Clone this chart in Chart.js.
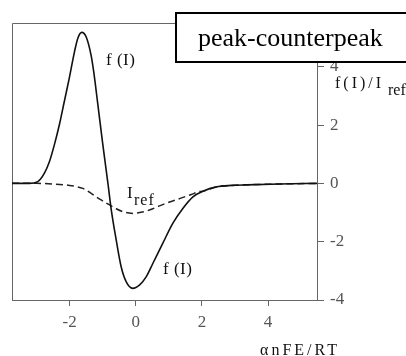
<!DOCTYPE html>
<html lang="en">
<head>
<meta charset="UTF-8">
<title>peak-counterpeak</title>
<style>
  html, body { margin: 0; padding: 0; background: #fff; }
  #wrap { width: 406px; height: 356px; position: relative; }
</style>
</head>
<body>
<div id="wrap"><canvas id="chart"></canvas></div>
<script src="https://cdn.jsdelivr.net/npm/chart.js"></script>
<script>
// f(I) curve: peak then counterpeak
const fX = [-3.74, -3.22, -2.96, -2.76, -2.61, -2.46, -2.31, -2.16, -2.01, -1.85, -1.75, -1.63, -1.50, -1.35, -1.27,
            -1.15, -1.00, -0.84, -0.74, -0.59, -0.44, -0.29, -0.09, 0.12, 0.32, 0.52, 0.82, 1.12, 1.43, 1.73, 2.03,
            2.44, 2.90, 3.35, 4.35, 5.48];
const fY = [0, 0, 0.06, 0.35, 0.74, 1.32, 2.00, 2.80, 3.60, 4.52, 4.98, 5.18, 5.03, 4.40, 3.83,
            2.75, 1.38, 0, -0.90, -1.94, -2.86, -3.37, -3.60, -3.48, -3.20, -2.74, -2.05, -1.37, -0.85, -0.46, -0.27,
            -0.12, -0.07, -0.05, -0.02, 0];

// reference current I_ref (dashed)
const refX = [-3.74, -3.00, -2.50, -2.00, -1.80, -1.60, -1.40, -1.20, -1.00, -0.79, -0.59, -0.39, -0.20, -0.05, 0.12,
              0.32, 0.52, 0.72, 0.92, 1.18, 1.43, 1.68, 1.93, 2.03, 2.44, 2.90, 3.35, 4.35, 5.48];
const refY = [0, 0, -0.02, -0.07, -0.11, -0.17, -0.30, -0.46, -0.60, -0.74, -0.87, -0.97, -1.02, -1.03, -1.00,
              -0.95, -0.87, -0.77, -0.68, -0.58, -0.48, -0.38, -0.28, -0.27, -0.12, -0.07, -0.05, -0.02, 0];

const xTicks = [-2, 0, 2, 4];
const yTicks = [-4, -2, 0, 2, 4];

const toPoints = (xs, ys) => xs.map((x, i) => ({ x: x, y: ys[i] }));

const SERIF = "Liberation Serif, DejaVu Serif, serif";

// draws text with extra spacing between letters
function spacedText(ctx, text, x, y, spacing) {
    ctx.letterSpacing = spacing + 'px';
    ctx.fillText(text, x, y);
    ctx.letterSpacing = '0px';
}

// frame, curve labels, axis titles and the boxed caption
const decorations = {
    id: 'decorations',
    beforeDatasetsDraw(chart) {
        const ctx = chart.ctx;
        const a = chart.chartArea;
        ctx.save();
        ctx.strokeStyle = '#666';
        ctx.lineWidth = 1;
        ctx.beginPath();
        ctx.moveTo(a.left + 0.5, a.bottom);
        ctx.lineTo(a.left + 0.5, a.top + 0.5);
        ctx.lineTo(a.right, a.top + 0.5);
        ctx.stroke();
        ctx.restore();
    },
    afterDraw(chart) {
        const ctx = chart.ctx;
        ctx.save();
        ctx.fillStyle = '#111';
        ctx.textBaseline = 'alphabetic';
        ctx.textAlign = 'left';

        ctx.font = '17px ' + SERIF;
        spacedText(ctx, 'f (I)', 106, 65, 0.5);
        spacedText(ctx, 'f (I)', 163, 274, 0.5);
        ctx.fillText('I', 127, 198);
        ctx.font = '16px ' + SERIF;
        spacedText(ctx, 'ref', 134, 205, 1);

        // right axis title
        ctx.font = '16px ' + SERIF;
        spacedText(ctx, 'f(I)/I', 335, 88, 3);
        spacedText(ctx, 'ref', 388, 95, 0);

        // bottom axis title
        ctx.font = '16px ' + SERIF;
        ctx.textAlign = 'center';
        spacedText(ctx, '\u03b1nFE/RT', 300, 355, 3);

        // caption box
        ctx.fillStyle = '#fff';
        ctx.fillRect(176, 13, 240, 49);
        ctx.strokeStyle = '#000';
        ctx.lineWidth = 2;
        ctx.strokeRect(176, 13, 240, 49);
        ctx.fillStyle = '#000';
        ctx.textAlign = 'left';
        ctx.font = '26px ' + SERIF;
        ctx.fillText('peak-counterpeak', 198, 46);
        ctx.restore();
    }
};

new Chart(document.getElementById('chart'), {
    type: 'line',
    data: {
        datasets: [
            {
                label: 'f(I)',
                data: toPoints(fX, fY),
                borderColor: '#111',
                borderWidth: 1.6,
                pointRadius: 0,
                cubicInterpolationMode: 'monotone',
                fill: false
            },
            {
                label: 'Iref',
                data: toPoints(refX, refY),
                borderColor: '#222',
                borderWidth: 1.5,
                borderDash: [7, 4],
                pointRadius: 0,
                cubicInterpolationMode: 'monotone',
                fill: false
            }
        ]
    },
    options: {
        responsive: true,
        maintainAspectRatio: false,
        animation: false,
        devicePixelRatio: 1,
        layout: { padding: { left: 12, top: 23, right: 0, bottom: 0 } },
        plugins: {
            legend: { display: false },
            tooltip: { enabled: false }
        },
        scales: {
            x: {
                type: 'linear',
                position: 'bottom',
                min: -3.74,
                max: 5.48,
                afterBuildTicks: (axis) => { axis.ticks = xTicks.map(v => ({ value: v })); },
                afterFit: (scale) => { scale.height = 56; },
                border: { display: true, color: '#666', width: 1 },
                grid: { drawOnChartArea: false, drawTicks: true, tickLength: 6, color: '#666' },
                ticks: {
                    color: '#555',
                    padding: 6,
                    font: { family: SERIF, size: 17 },
                    maxRotation: 0
                }
            },
            y: {
                type: 'linear',
                position: 'right',
                min: -4,
                max: 5.5,
                afterBuildTicks: (axis) => { axis.ticks = yTicks.map(v => ({ value: v })); },
                afterFit: (scale) => { scale.width = 89; },
                border: { display: true, color: '#666', width: 1 },
                grid: { drawOnChartArea: false, drawTicks: true, tickLength: 7, color: '#666' },
                ticks: {
                    color: '#555',
                    padding: 6,
                    font: { family: SERIF, size: 17 }
                }
            }
        }
    },
    plugins: [decorations]
});
</script>
</body>
</html>
